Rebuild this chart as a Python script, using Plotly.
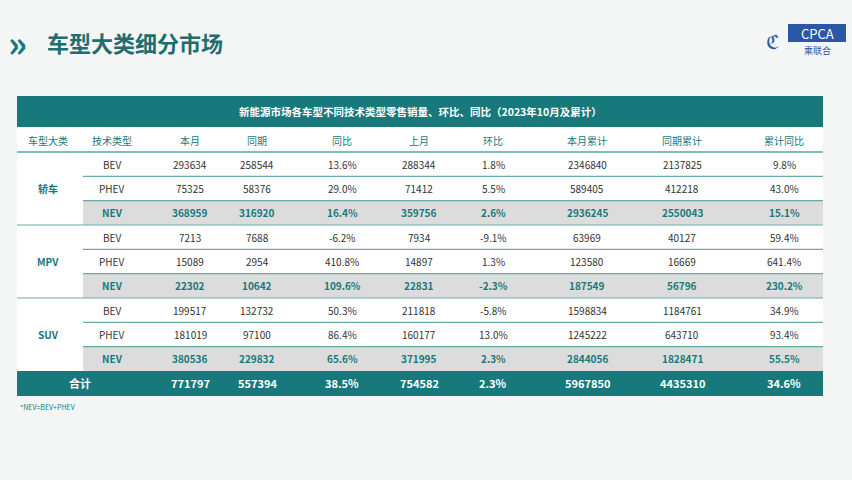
import plotly.graph_objects as go

headers = ["车型大类", "技术类型", "本月", "同期", "同比", "上月", "环比", "本月累计", "同期累计", "累计同比"]
groups = ["轿车", "MPV", "SUV"]
techs = ["BEV", "PHEV", "NEV"]
this_month = [293634, 75325, 368959, 7213, 15089, 22302, 199517, 181019, 380536]
same_period = [258544, 58376, 316920, 7688, 2954, 10642, 132732, 97100, 229832]
yoy = ["13.6%", "29.0%", "16.4%", "-6.2%", "410.8%", "109.6%", "50.3%", "86.4%", "65.6%"]
last_month = [288344, 71412, 359756, 7934, 14897, 22831, 211818, 160177, 371995]
mom = ["1.8%", "5.5%", "2.6%", "-9.1%", "1.3%", "-2.3%", "-5.8%", "13.0%", "2.3%"]
ytd = [2346840, 589405, 2936245, 63969, 123580, 187549, 1598834, 1245222, 2844056]
ytd_prev = [2137825, 412218, 2550043, 40127, 16669, 56796, 1184761, 643710, 1828471]
ytd_yoy = ["9.8%", "43.0%", "15.1%", "59.4%", "641.4%", "230.2%", "34.9%", "93.4%", "55.5%"]
total = ["合计", 771797, 557394, "38.5%", 754582, "2.3%", 5967850, 4435310, "34.6%"]
table_title = "新能源市场各车型不同技术类型零售销量、环比、同比（2023年10月及累计）"
page_title = "车型大类细分市场"

TEAL = "#17797b"
DARK = "#333333"
col_x = [48, 112, 190, 257, 342, 419, 493, 587, 682, 784]
L, R = 17, 823
row_top, row_h = 152, 24.33

fig = go.Figure()
shapes, ann = [], []
def txt(x, y, s, color=DARK, size=10, bold=False, xanchor="center"):
    ann.append(dict(x=x, y=y, text=f"<b>{s}</b>" if bold else str(s), showarrow=False,
                    font=dict(color=color, size=size, family="Noto Sans CJK SC"), xanchor=xanchor, yanchor="middle"))

# page title
txt(6, 41, "»", TEAL, 36, True, "left")
txt(45, 42, page_title, "#1f6e6e", 22, True, "left")
# logo
shapes.append(dict(type="rect", x0=788, x1=846, y0=24, y1=42, fillcolor="#2b57a6", line=dict(width=0)))
txt(817, 33, "CPCA", "white", 13, False)
txt(817, 50, "乘联合", "#2b57a6", 9)
txt(772, 40, "ℭ", "#2b57a6", 20)

# table box
shapes.append(dict(type="rect", x0=L, x1=R, y0=96, y1=396, fillcolor="white", line=dict(width=0), layer="below"))
shapes.append(dict(type="rect", x0=L, x1=R, y0=96, y1=127, fillcolor=TEAL, line=dict(width=0)))
txt(420, 111, table_title, "white", 10.5, True)
for i, h in enumerate(headers):
    txt(col_x[i], 140, h, TEAL, 10)
shapes.append(dict(type="line", x0=L, x1=R, y0=152, y1=152, line=dict(color="#5aa3a3", width=1.5)))

cols = [this_month, same_period, yoy, last_month, mom, ytd, ytd_prev, ytd_yoy]
for r in range(9):
    y0 = row_top + r * row_h
    yc = y0 + row_h / 2
    nev = techs[r % 3] == "NEV"
    if nev:
        shapes.append(dict(type="rect", x0=83, x1=R, y0=y0, y1=y0 + row_h, fillcolor="#dcdcdc", line=dict(width=0), layer="below"))
    c = TEAL if nev else DARK
    txt(col_x[1], yc, techs[r % 3], c, 10, nev)
    for j, col in enumerate(cols):
        txt(col_x[j + 2], yc, col[r], c, 10, nev)
    if r < 8:
        x0 = L if r % 3 == 2 else 83
        shapes.append(dict(type="line", x0=x0, x1=R, y0=y0 + row_h, y1=y0 + row_h, line=dict(color="#6aa9a9", width=1.2)))
for g, name in enumerate(groups):
    txt(col_x[0], row_top + (g * 3 + 1.5) * row_h, name, TEAL, 10, True)

ty0 = row_top + 9 * row_h
shapes.append(dict(type="rect", x0=L, x1=R, y0=ty0, y1=396, fillcolor=TEAL, line=dict(width=0)))
txt(80, (ty0 + 396) / 2, total[0], "white", 11, True)
for j, v in enumerate(total[1:]):
    txt(col_x[j + 2], (ty0 + 396) / 2, v, "white", 11, True)
txt(18, 407, "*NEV=BEV+PHEV", TEAL, 7, False, "left")

fig.update_layout(width=852, height=480, margin=dict(l=0, r=0, t=0, b=0),
                  paper_bgcolor="#f4f5f5", plot_bgcolor="#f4f5f5",
                  xaxis=dict(range=[0, 852], visible=False, fixedrange=True),
                  yaxis=dict(range=[480, 0], visible=False, fixedrange=True),
                  shapes=shapes, annotations=ann, showlegend=False)
fig.write_html("out.html", config={"displayModeBar": False},
               post_script="document.body.style.margin='0';document.body.style.overflow='hidden';document.body.style.background='#f4f5f5';")
